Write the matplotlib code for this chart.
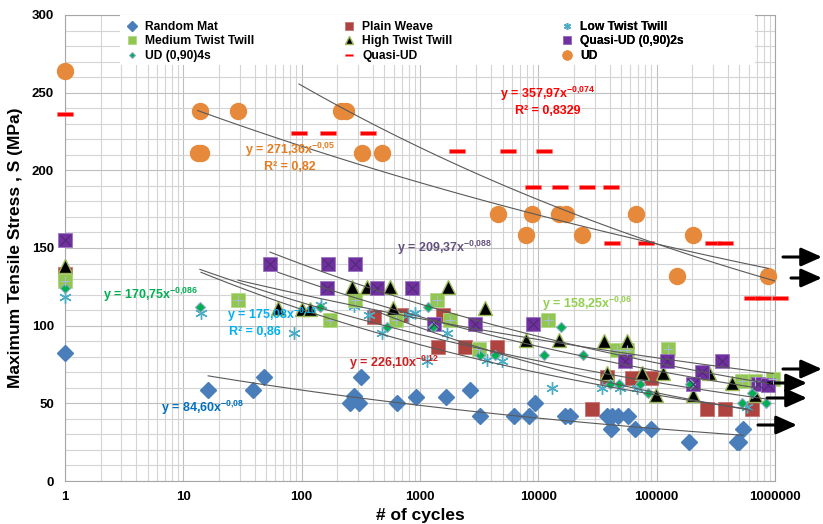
import numpy as np
import matplotlib.pyplot as plt
from matplotlib.patches import Rectangle
from matplotlib.ticker import LogLocator, MultipleLocator, FixedLocator, FixedFormatter, NullFormatter

plt.rcParams['font.family'] = 'Liberation Sans'
plt.rcParams['font.weight'] = 'bold'
plt.rcParams['mathtext.fontset'] = 'custom'
plt.rcParams['mathtext.rm'] = 'Liberation Sans:bold'
plt.rcParams['mathtext.default'] = 'rm'

# S-N data: number of cycles vs max tensile stress (MPa); N=1 is the static strength
random_mat_n = [1, 16.2, 38.8, 48.1, 256, 277, 306, 318, 640, 927, 1660, 2650, 3220, 6240, 8360, 9400,
                16900, 18600, 38200, 42000, 47300, 57400, 41200, 65800, 89900, 188000, 479000, 498000, 538000]
random_mat_s = [82.5, 58.6, 58.6, 67, 50.2, 54.7, 50.2, 67, 50.2, 54, 54, 58.6, 41.9, 41.9, 41.9, 50.2,
                41.9, 41.9, 41.9, 41.9, 41.9, 41.9, 33.5, 33.5, 33.5, 25.1, 25.1, 25.1, 33.5]

plain_weave_n = [1, 409, 692, 1570, 1420, 2400, 4490, 28500, 38200, 62100, 89900, 267000, 379000, 642000]
plain_weave_s = [133, 105.6, 106.9, 106.9, 86.3, 86.3, 86.3, 46.4, 67, 66.3, 66.3, 46.4, 46.4, 46.4]

low_twist_n = [1, 14.1, 86.3, 146, 277, 371, 478, 793, 909, 1690, 1148, 3690, 4940, 13100, 34600,
               49100, 68400, 582000]
low_twist_s = [118.5, 108.2, 95.3, 113.3, 112.7, 106.9, 95.3, 106.9, 108.2, 95.3, 77.3, 77.9, 77.3, 59.9,
               59.9, 59.9, 59.9, 47.6]

medium_twist_n = [1, 29, 174, 283, 628, 1395, 1797, 3160, 12100, 46400, 56300, 125000, 528000, 680000, 966000]
medium_twist_s = [129, 116.5, 103.7, 116.5, 103.7, 116.5, 103.7, 85, 103.7, 84.4, 84.4, 85, 64.4, 64.4, 65.7]

high_twist_n = [1, 63, 101, 118, 267, 357, 559, 593, 1730, 3550, 7890, 15000, 36000, 56300, 38200, 75400,
                113000, 99100, 204000, 278000, 435000, 680000]
high_twist_s = [138.5, 111.4, 110.8, 110.8, 124.9, 124.9, 124.9, 111.4, 124.9, 111.4, 90.8, 90.8, 90.1, 90.1,
                69.5, 69.5, 69.5, 55.4, 55.4, 69.5, 63.1, 55.4]

quasi_ud_2s_n = [1, 54, 167, 283, 164, 434, 858, 1316, 2920, 9040, 54200, 123000, 358000, 243000, 204000,
                 721000, 877000]
quasi_ud_2s_s = [155, 139.7, 139.7, 139.7, 124.3, 124.3, 124.3, 101.1, 101.1, 101.1, 77.3, 77.3, 77.3, 70.2,
                 62.5, 62.5, 61.8]

ud_4s_n = [1, 13.8, 143, 527, 1170, 1290, 3220, 4320, 11200, 15600, 23900, 40400, 48200, 72600, 84800,
           192000, 528000, 642000, 843000]
ud_4s_s = [124, 112, 112, 99.2, 112, 99.2, 81.1, 81.1, 81.1, 99.2, 81.1, 62.5, 62.5, 62.5, 56.7, 62.5,
           50.2, 56.7, 50.2]

quasi_ud_n = [1, 95, 167, 364, 2060, 5560, 11200, 9040, 15300, 25800, 41200, 42000, 81500, 300000, 380000,
              642000, 795000, 1100000]
quasi_ud_s = [236, 224, 224, 224, 212.5, 212.5, 212.5, 189, 189, 189, 189, 153, 153, 153, 153, 118, 118, 118]

ud_n = [1, 13.8, 29, 215, 235, 13.2, 14.2, 324, 478, 4570, 8870, 15000, 17000, 67100, 7890, 23500, 204000,
        149000, 875000]
ud_s = [264, 238, 238, 238, 238, 211, 211, 211, 211, 172, 172, 172, 172, 172, 158.4, 158.4, 158.4, 132, 132]

# power-law trendlines S = a * N^b as given on the chart
fit_random_mat = (84.60, -0.08)
fit_plain_weave = (226.10, -0.12)
fit_low_twist = (175.08, -0.10)
fit_medium_twist = (158.25, -0.06)
fit_quasi_ud_2s = (209.37, -0.088)
fit_ud_4s = (170.75, -0.086)
fit_quasi_ud = (357.97, -0.074)
fit_ud = (271.36, -0.05)

x_ticks = [1, 10, 100, 1000, 10000, 100000, 1000000]
x_tick_labels = ['1', '10', '100', '1000', '10000', '100000', '1000000']

dash = [(-1, -0.32), (1, -0.32), (1, 0.32), (-1, 0.32), (-1, -0.32)]

fig = plt.figure(figsize=(8.23, 5.24), dpi=100)
ax = fig.add_axes([65 / 823, 43 / 524, 710 / 823, 466 / 524])

def power_line(n, fit):
    n = np.array(n[1:], dtype=float)
    xs = np.logspace(np.log10(n.min()), np.log10(n.max()), 100)
    ax.plot(xs, fit[0] * xs ** fit[1], color='#595959', lw=0.8, zorder=5)

series = [
    ('Random Mat', random_mat_n, random_mat_s, dict(marker='D', ms=8.5, mfc='#4A7EBB', mec='#4A7EBB')),
    ('Plain Weave', plain_weave_n, plain_weave_s, dict(marker='s', ms=9.5, mfc='#AE4340', mec='#C77573', mew=0.6)),
    ('Low Twist Twill', low_twist_n, low_twist_s, dict(marker=(6, 2, 0), ms=9, mfc='none', mec='#4BACC6', mew=1.0)),
    ('Medium Twist Twill', medium_twist_n, medium_twist_s, dict(marker='s', ms=9.5, mfc='#92C74F', mec='#B3D88A', mew=0.6)),
    ('High Twist Twill', high_twist_n, high_twist_s, dict(marker='^', ms=10, mfc='black', mec='#9BBB59', mew=1.0)),
    ('Quasi-UD (0,90)2s', quasi_ud_2s_n, quasi_ud_2s_s, dict(marker='s', ms=10.5, mfc='#7030A0', mec='#9A76BE', mew=0.6)),
    ('UD (0,90)4s', ud_4s_n, ud_4s_s, dict(marker='D', ms=5.5, mfc='#00B050', mec='#8EA9C8', mew=0.8)),
    ('Quasi-UD', quasi_ud_n, quasi_ud_s, dict(marker=dash, ms=11, mfc='#FF0000', mec='#FF8080', mew=0.4)),
    ('UD', ud_n, ud_s, dict(marker='o', ms=11.5, mfc='#E6893B', mec='#E6893B')),
]

handles = {}
for name, n, s, style in series:
    h, = ax.plot(n, s, ls='none', clip_on=False, zorder=3, label=name, **style)
    handles[name] = h

# inner crosses on the twill and quasi-UD squares
ax.plot(medium_twist_n, medium_twist_s, ls='none', marker='+', ms=7.5, mec='#A9BBD1', mew=0.8, clip_on=False, zorder=4)
ax.plot(quasi_ud_2s_n, quasi_ud_2s_s, ls='none', marker='x', ms=7, mec='#4B2A6E', mew=0.7, clip_on=False, zorder=4)

# trendlines
power_line(random_mat_n, fit_random_mat)
power_line(plain_weave_n, fit_plain_weave)
power_line(low_twist_n, fit_low_twist)
power_line(medium_twist_n, fit_medium_twist)
power_line(quasi_ud_2s_n, fit_quasi_ud_2s)
power_line(ud_4s_n, fit_ud_4s)
power_line(quasi_ud_n, fit_quasi_ud)
power_line(ud_n, fit_ud)
b_ht, log_a_ht = np.polyfit(np.log(high_twist_n[1:]), np.log(high_twist_s[1:]), 1)
power_line(high_twist_n, (np.exp(log_a_ht), b_ht))

def eq_label(x, y, fit, exp_txt, color, r2=None, r2_xy=None):
    ax.text(x, y, 'y = %s' % ('%.2f' % fit[0]).replace('.', ',') + 'x$^{-%s}$' % exp_txt,
            color=color, fontsize=9, ha='center', va='center', zorder=6)
    if r2 is not None:
        ax.text(r2_xy[0], r2_xy[1], 'R² = ' + r2, color=color, fontsize=9, ha='center', va='center', zorder=6)

eq_label(80, 213, fit_ud, '0{,}05', '#E57C1F', '0,82', (80, 202))
eq_label(12100, 249, fit_quasi_ud, '0{,}074', '#FF0000', '0,8329', (12100, 238))
eq_label(1630, 150, fit_quasi_ud_2s, '0{,}088', '#65527F')
eq_label(5.3, 120, fit_ud_4s, '0{,}086', '#00B050')
eq_label(56, 107, fit_low_twist, '0{,}10', '#00B0F0', '0,86', (40, 96))
eq_label(600, 76, fit_plain_weave, '0{,}12', '#CC1F1F')
eq_label(26000, 114, fit_medium_twist, '0{,}06', '#92D050')
eq_label(14.7, 47, fit_random_mat, '0{,}08', '#0070C0')

ax.set_xscale('log')
ax.set_xlim(1, 1e6)
ax.set_ylim(0, 300)
ax.xaxis.set_major_locator(FixedLocator(x_ticks))
ax.xaxis.set_major_formatter(FixedFormatter(x_tick_labels))
ax.xaxis.set_minor_locator(LogLocator(base=10, subs=np.arange(2, 10)))
ax.xaxis.set_minor_formatter(NullFormatter())
ax.yaxis.set_major_locator(MultipleLocator(50))
ax.yaxis.set_minor_locator(MultipleLocator(10))
ax.grid(which='major', color='#BFBFBF', lw=0.8)
ax.grid(which='minor', color='#D4D4D4', lw=0.8)
ax.set_axisbelow(True)
for sp in ax.spines.values():
    sp.set_color('#A6A6A6')
    sp.set_linewidth(0.8)
ax.tick_params(which='both', length=0, labelsize=9.5)
ax.tick_params(axis='x', pad=7)
ax.tick_params(axis='y', pad=8)
ax.set_xlabel('# of cycles', fontsize=12.5, fontweight='bold', labelpad=4)
ax.set_ylabel('Maximum Tensile Stress , S (MPa)', fontsize=12.5, fontweight='bold', labelpad=6)

# white panel behind the legend
ax.add_patch(Rectangle((0.077, 0.893), 0.895, 0.107, transform=ax.transAxes, facecolor='white',
                       edgecolor='none', zorder=6))

columns = [['Random Mat', 'Medium Twist Twill', 'UD (0,90)4s'],
           ['Plain Weave', 'High Twist Twill', 'Quasi-UD'],
           ['Low Twist Twill', 'Quasi-UD (0,90)2s', 'UD']]
col_x = [0.077, 0.383, 0.690]
for cx, names in zip(col_x, columns):
    leg = ax.legend([handles[k] for k in names], names, loc='upper left', bbox_to_anchor=(cx, 1.0),
                    fontsize=8.7, markerscale=0.55, handlelength=1.0, handletextpad=0.6,
                    labelspacing=0.2, borderaxespad=0.2, borderpad=0.3, frameon=False)
    leg.set_zorder(7)
    ax.add_artist(leg)

# arrows marking run-outs on the right side
arrows = [(783, 822, 257), (791, 822, 278), (783, 822, 369), (768, 807, 383), (767, 807, 398), (758, 797, 425)]
for x0, x1, yp in arrows:
    ax.annotate('', xy=(x1, 524 - yp), xytext=(x0, 524 - yp), xycoords='figure pixels',
                textcoords='figure pixels', annotation_clip=False,
                arrowprops=dict(arrowstyle='-|>,head_length=0.9,head_width=0.4', color='black', lw=2.2,
                                mutation_scale=14, shrinkA=0, shrinkB=0))

fig.savefig('out.png', dpi=100)
